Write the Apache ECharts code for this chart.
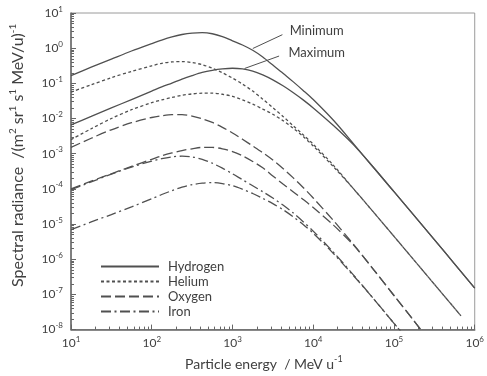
<!DOCTYPE html>
<html><head><meta charset="utf-8">
<script src="https://cdn.jsdelivr.net/npm/echarts@6/dist/echarts.min.js"></script>
<style>html,body{margin:0;padding:0;background:#fff}#c{width:487px;height:376px}</style>
</head><body><div id="c"></div>
<script>
// Particle energy grid (MeV/u)
const energies = [10, 17.8, 31.6, 56.2, 100, 133, 178, 237, 316, 422, 562, 750, 1000, 1330, 1780, 2370, 3160, 4220, 5620, 7500, 10000, 17800, 31600, 56200, 100000, 178000, 316000, 562000, 1000000];
const heliumEnergies = [10, 17.8, 31.6, 56.2, 100, 133, 178, 237, 316, 422, 562, 750, 1000, 1330, 1780, 2370, 3160, 4220, 5620, 7500, 10000, 17800, 31600, 56200, 100000, 178000, 316000, 562000, 676000];

// Spectral radiance, (m2 sr s MeV/u)^-1
const hydrogenMin = [0.166, 0.288, 0.490, 0.832, 1.35, 1.70, 2.09, 2.45, 2.69, 2.75, 2.57, 2.14, 1.62, 1.23, 0.871, 0.562, 0.331, 0.195, 0.112, 6.31e-2, 3.47e-2, 8.91e-3, 1.91e-3, 3.98e-4, 8.32e-5, 1.74e-5, 3.63e-6, 7.41e-7, 1.51e-7];
const hydrogenMax = [6.61e-3, 1.15e-2, 2.00e-2, 3.47e-2, 6.03e-2, 7.94e-2, 0.102, 0.132, 0.166, 0.204, 0.234, 0.257, 0.269, 0.257, 0.224, 0.174, 0.126, 8.51e-2, 5.50e-2, 3.39e-2, 2.00e-2, 6.31e-3, 1.78e-3, 3.98e-4, 8.32e-5, 1.74e-5, 3.63e-6, 7.41e-7, 1.51e-7];
const heliumMin = [5.62e-2, 9.12e-2, 0.145, 0.219, 0.316, 0.372, 0.407, 0.417, 0.389, 0.339, 0.269, 0.200, 0.141, 9.55e-2, 6.03e-2, 3.55e-2, 2.04e-2, 1.15e-2, 6.31e-3, 3.47e-3, 1.86e-3, 4.68e-4, 1.00e-4, 2.14e-5, 4.47e-6, 9.33e-7, 1.95e-7, 4.07e-8, 2.45e-8];
const heliumMax = [2.51e-3, 5.13e-3, 1.00e-2, 1.78e-2, 2.82e-2, 3.39e-2, 3.98e-2, 4.57e-2, 5.01e-2, 5.25e-2, 5.25e-2, 4.90e-2, 4.27e-2, 3.39e-2, 2.57e-2, 1.86e-2, 1.32e-2, 8.71e-3, 5.37e-3, 3.09e-3, 1.66e-3, 4.27e-4, 1.00e-4, 2.14e-5, 4.47e-6, 9.33e-7, 1.95e-7, 4.07e-8, 2.45e-8];
const oxygenMin = [1.51e-3, 2.75e-3, 4.79e-3, 7.59e-3, 1.07e-2, 1.20e-2, 1.29e-2, 1.29e-2, 1.17e-2, 9.77e-3, 7.76e-3, 5.62e-3, 3.89e-3, 2.57e-3, 1.66e-3, 1.07e-3, 6.61e-4, 3.80e-4, 2.09e-4, 1.10e-4, 5.50e-5, 1.26e-5, 2.63e-6, 5.01e-7, 9.33e-8, 1.74e-8, 3.16e-9];
const oxygenMax = [1.00e-4, 1.66e-4, 2.69e-4, 4.37e-4, 6.92e-4, 8.71e-4, 1.05e-3, 1.23e-3, 1.38e-3, 1.51e-3, 1.51e-3, 1.38e-3, 1.15e-3, 8.71e-4, 6.03e-4, 3.98e-4, 2.34e-4, 1.38e-4, 8.32e-5, 5.01e-5, 2.95e-5, 9.33e-6, 2.51e-6, 5.01e-7, 9.33e-8, 1.74e-8, 3.16e-9];
const ironMin = [9.55e-5, 1.58e-4, 2.63e-4, 4.17e-4, 6.17e-4, 7.24e-4, 8.13e-4, 8.51e-4, 8.13e-4, 6.92e-4, 5.37e-4, 3.89e-4, 2.69e-4, 1.82e-4, 1.23e-4, 8.32e-5, 5.50e-5, 3.47e-5, 2.09e-5, 1.17e-5, 6.31e-6, 1.58e-6, 3.55e-7, 7.41e-8, 1.51e-8, 3.16e-9];
const ironMax = [6.92e-6, 1.15e-5, 1.86e-5, 3.09e-5, 5.25e-5, 6.92e-5, 8.91e-5, 1.12e-4, 1.32e-4, 1.45e-4, 1.51e-4, 1.41e-4, 1.23e-4, 9.77e-5, 7.41e-5, 5.37e-5, 3.80e-5, 2.57e-5, 1.62e-5, 9.77e-6, 5.50e-6, 1.45e-6, 3.39e-7, 7.41e-8, 1.51e-8, 3.16e-9];

// Tick labels
const xTickValues = [10, 100, 1000, 10000, 100000, 1000000];
const yTickValues = [1e-8, 1e-7, 1e-6, 1e-5, 1e-4, 1e-3, 1e-2, 1e-1, 1, 10];
const legendNames = ['Hydrogen', 'Helium', 'Oxygen', 'Iron'];

// Annotation leader lines (data coordinates: energy, radiance)
const minimumLeader = [[1786, 0.98], [4150, 2.42]];
const maximumLeader = [[1413, 0.265], [3776, 0.597]];

function minors(decades) {
  const out = [];
  for (let i = 0; i < decades.length - 1; i++) for (let k = 2; k <= 9; k++) out.push(+(decades[i] * k).toPrecision(3));
  return out;
}
const xMinor = minors(xTickValues);
const yMinor = minors(yTickValues);

const FONT = 'Lato';
const TXT = '#404040';
const LINE = '#505050';
function pairs(xs, ys) { return ys.map((v, i) => [xs[i], v]); }
function sup(v) { return '{b|10}{s|' + Math.round(Math.log10(v)) + '}'; }
const tickRich = { b: { fontSize: 12, fontFamily: FONT, color: TXT, lineHeight: 16 }, s: { fontSize: 8, fontFamily: FONT, color: TXT, lineHeight: 10, verticalAlign: 'top' } };
const xNameRich = { t: { fontSize: 14, fontFamily: FONT, color: TXT, lineHeight: 19 }, s: { fontSize: 9, fontFamily: FONT, color: TXT, lineHeight: 11, verticalAlign: 'top' } };
const yNameRich = { t: { fontSize: 16, fontFamily: FONT, color: TXT, lineHeight: 20 }, s: { fontSize: 10, fontFamily: FONT, color: TXT, lineHeight: 12, verticalAlign: 'top' } };

const styles = {
  Hydrogen: { type: 'solid' },
  Helium: { type: [3, 2.5] },
  Oxygen: { type: [10, 4] },
  Iron: { type: [10, 3.5, 2, 3.5] }
};
function mk(name, xs, ys, extra) {
  return Object.assign({
    type: 'line', name: name, data: pairs(xs, ys), smooth: 0.3, showSymbol: false, symbol: 'none',
    xAxisIndex: 0, yAxisIndex: 0, clip: true,
    lineStyle: { color: LINE, width: 1.3, type: styles[name].type }, itemStyle: { color: LINE }
  }, extra || {});
}

const chart = echarts.init(document.getElementById('c'), null, { renderer: 'canvas' });
chart.setOption({
  animation: false,
  backgroundColor: '#fff',
  grid: { left: 67, right: 10, top: 13, bottom: 42, show: true, borderColor: '#9a9a9a', borderWidth: 1, backgroundColor: 'transparent' },
  legend: {
    data: legendNames, orient: 'vertical', left: 95, top: 255, itemWidth: 58, itemHeight: 14, itemGap: 2,
    itemStyle: { color: 'rgba(0,0,0,0)', borderColor: 'rgba(0,0,0,0)', borderWidth: 0, opacity: 0 },
    textStyle: { fontFamily: FONT, fontSize: 13, color: TXT, padding: [0, 0, 0, 4] }, selectedMode: false
  },
  xAxis: [
    { type: 'log', logBase: 10, min: 10, max: 1e6, position: 'bottom',
      axisLine: { lineStyle: { color: '#666', width: 1.5 } },
      axisTick: { inside: true, length: 5, customValues: xTickValues, lineStyle: { color: '#666' } },
      axisLabel: { customValues: xTickValues, formatter: sup, rich: tickRich, margin: 6 },
      splitLine: { show: false },
      name: '{t|Particle energy  / MeV u}{s|-1}', nameLocation: 'middle', nameGap: 22,
      nameTextStyle: { rich: xNameRich, padding: [0, 18, 0, 0] } },
    { type: 'log', logBase: 10, min: 10, max: 1e6, position: 'bottom',
      axisLine: { show: false },
      axisTick: { inside: true, length: 3, customValues: xMinor, lineStyle: { color: '#666' } },
      axisLabel: { show: false }, splitLine: { show: false } }
  ],
  yAxis: [
    { type: 'log', logBase: 10, min: 1e-8, max: 10, position: 'left',
      axisLine: { lineStyle: { color: '#666', width: 1.5 } },
      axisTick: { inside: true, length: 5, customValues: yTickValues, lineStyle: { color: '#666' } },
      axisLabel: { customValues: yTickValues, formatter: sup, rich: tickRich, margin: 8 },
      splitLine: { show: false },
      name: '{t|Spectral radiance  /(m}{s|2}{t| sr}{s|1}{t| s}{s|1}{t| MeV/u)}{s|-1}', nameLocation: 'middle', nameGap: 43,
      nameTextStyle: { rich: yNameRich, padding: [0, 0, 0, 32] } },
    { type: 'log', logBase: 10, min: 1e-8, max: 10, position: 'left',
      axisLine: { show: false },
      axisTick: { inside: true, length: 3, customValues: yMinor, lineStyle: { color: '#666' } },
      axisLabel: { show: false }, splitLine: { show: false } }
  ],
  series: [
    mk('Hydrogen', energies, hydrogenMin, {
      markLine: {
        silent: true, symbol: ['none', 'none'], animation: false,
        lineStyle: { color: LINE, width: 1, type: 'solid' },
        label: { show: true, position: 'end', fontFamily: FONT, fontSize: 13, color: TXT },
        data: [
          [{ coord: minimumLeader[0], label: { formatter: 'Minimum', distance: 8 } }, { coord: minimumLeader[1] }],
          [{ coord: maximumLeader[0], label: { formatter: 'Maximum', distance: 10 } }, { coord: maximumLeader[1] }]
        ]
      }
    }),
    mk('Hydrogen', energies, hydrogenMax),
    mk('Helium', heliumEnergies, heliumMin),
    mk('Helium', heliumEnergies, heliumMax),
    mk('Oxygen', energies, oxygenMin),
    mk('Oxygen', energies, oxygenMax),
    mk('Iron', energies, ironMin),
    mk('Iron', energies, ironMax)
  ]
});
</script></body></html>
